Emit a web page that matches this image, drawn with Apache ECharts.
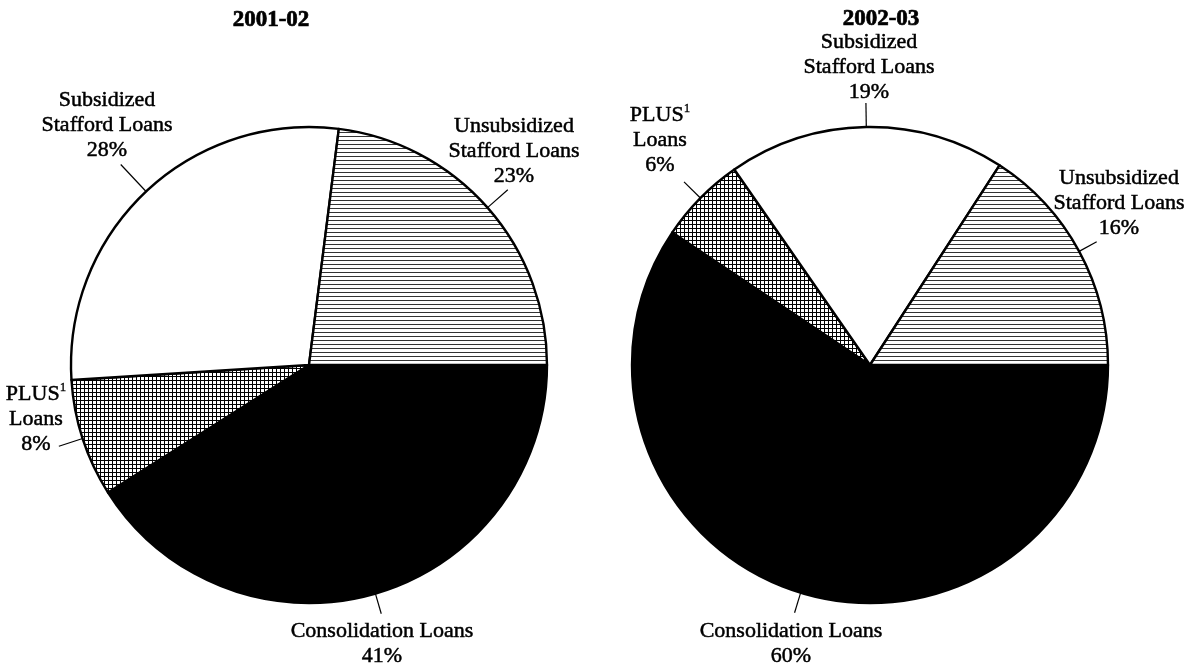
<!DOCTYPE html>
<html>
<head>
<meta charset="utf-8">
<script src="https://cdn.jsdelivr.net/npm/echarts@6/dist/echarts.min.js"></script>
<style>
html,body{margin:0;padding:0;background:#fff;}
#chart{width:1191px;height:668px;}
</style>
</head>
<body>
<div id="chart"></div>
<script>
// ---- data ----
const years = ['2001-02', '2002-03'];
const categories = ['Consolidation Loans', 'PLUS Loans', 'Subsidized Stafford Loans', 'Unsubsidized Stafford Loans'];
const labelNames = ['Consolidation Loans', 'PLUS{sup|1}\nLoans', 'Subsidized\nStafford Loans', 'Unsubsidized\nStafford Loans'];
const values2001 = [41, 8, 28, 23];
const values2002 = [60, 6, 19, 16];

// ---- layout (not data) ----
const FONT = '"Liberation Serif", "Times New Roman", serif';
const pieCenters = [[309, 365], [870, 365]];
const pieRadius = 238;
const titlePos = [[271, 20], [881, 19]];
const labelPos = [
  [[382, 644], [36, 419], [107, 125], [514, 151]],
  [[791, 644], [660, 140], [869, 67], [1119, 203]]
];
const lineLen = [
  [21, 25, 37, 27],
  [21, 23, 24, 20]
];

function makePattern(type) {
  const c = document.createElement('canvas');
  c.width = 4; c.height = 4;
  const g = c.getContext('2d');
  g.fillStyle = '#ffffff';
  g.fillRect(0, 0, 4, 4);
  g.fillStyle = type === 'cross' ? '#000' : '#333';
  g.fillRect(0, 0, 4, 1);
  if (type === 'cross') g.fillRect(0, 0, 1, 4);
  return c;
}
const fills = [
  '#000000',
  { image: makePattern('cross'), repeat: 'repeat' },
  '#ffffff',
  { image: makePattern('hatch'), repeat: 'repeat' }
];

function buildSeries(si, values) {
  return {
    type: 'pie',
    center: pieCenters[si],
    radius: pieRadius,
    startAngle: 0,
    clockwise: true,
    avoidLabelOverlap: false,
    animation: false,
    silent: true,
    emphasis: { disabled: true },
    itemStyle: { borderColor: '#000', borderWidth: 2.4 },
    label: {
      show: true,
      position: 'outside',
      color: '#000',
      fontFamily: FONT,
      fontSize: 22,
      lineHeight: 25,
      align: 'center',
      textBorderColor: '#000',
      textBorderWidth: 0.5,
      formatter: function (p) { return labelNames[p.dataIndex] + '\n' + p.value + '%'; },
      rich: {
        sup: { fontFamily: FONT, fontSize: 13, lineHeight: 14, verticalAlign: 'top', color: '#000', textBorderColor: '#000', textBorderWidth: 0.3 }
      }
    },
    labelLine: { show: true, length: 20, length2: 0, smooth: false, lineStyle: { color: '#000', width: 1.2 } },
    labelLayout: function (params) {
      const pos = labelPos[si][params.dataIndex];
      const out = { x: pos[0], y: pos[1], align: 'center', verticalAlign: 'middle' };
      if (params.labelLinePoints && params.labelLinePoints.length >= 2) {
        out.labelLinePoints = [params.labelLinePoints[0], params.labelLinePoints[1]];
      }
      return out;
    },
    data: categories.map(function (name, i) {
      return {
        name: name,
        value: values[i],
        itemStyle: { color: fills[i] },
        labelLine: { length: lineLen[si][i], length2: 0 }
      };
    })
  };
}

const chart = echarts.init(document.getElementById('chart'), null, { renderer: 'canvas' });
chart.setOption({
  backgroundColor: '#ffffff',
  animation: false,
  graphic: years.map(function (y, i) {
    return {
      type: 'text',
      x: titlePos[i][0],
      y: titlePos[i][1],
      style: { text: y, font: 'bold 23px ' + FONT, fill: '#000', stroke: '#000', lineWidth: 0.7, textAlign: 'center', textVerticalAlign: 'middle' }
    };
  }),
  series: [buildSeries(0, values2001), buildSeries(1, values2002)]
});
</script>
</body>
</html>
